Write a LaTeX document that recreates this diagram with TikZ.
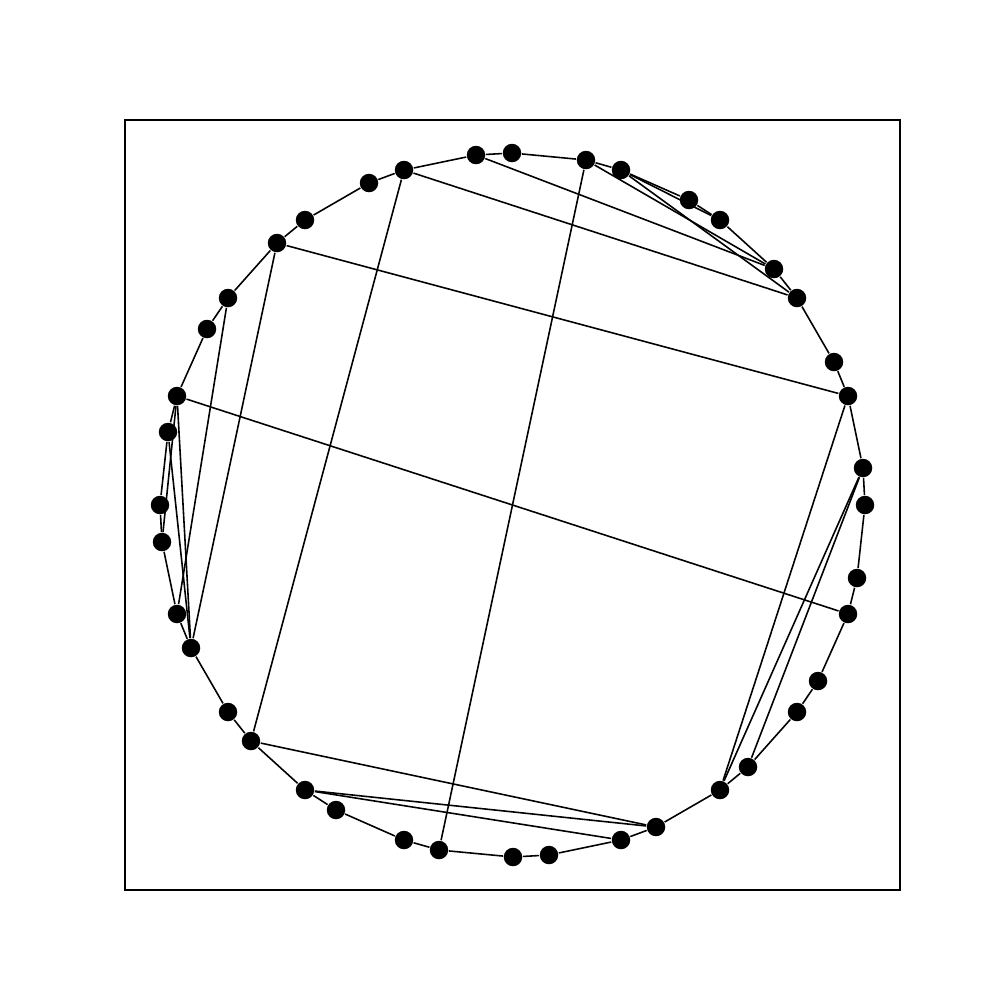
\documentclass[tikz,border=0pt]{standalone}
\usepackage{tikz}
\usetikzlibrary{backgrounds}
\tikzset{
  vertex/.style={circle, fill=black, draw=none, minimum size=1.85mm, inner sep=0pt},
  edge/.style={draw=black, line width=0.45pt},
  framebox/.style={draw=black, line width=0.35pt},
}

\begin{document}
\begin{tikzpicture}[x=0.1mm, y=-0.1mm]
  \useasboundingbox (0,0) rectangle (1000,1000);

  % Frame
  \draw [framebox] (125,120) rectangle (900,890);

  % Nodes
  \node [vertex] (v1) at (476,155) {};
  \node [vertex] (v2) at (512,153) {};
  \node [vertex] (v3) at (586,160) {};
  \node [vertex] (v4) at (621,170) {};
  \node [vertex] (v5) at (689,200) {};
  \node [vertex] (v6) at (720,220) {};
  \node [vertex] (v7) at (774,269) {};
  \node [vertex] (v8) at (797,298) {};
  \node [vertex] (v9) at (834,362) {};
  \node [vertex] (v10) at (848,396) {};
  \node [vertex] (v11) at (863,468) {};
  \node [vertex] (v12) at (865,505) {};
  \node [vertex] (v13) at (857,578) {};
  \node [vertex] (v14) at (848,614) {};
  \node [vertex] (v15) at (818,681) {};
  \node [vertex] (v16) at (797,712) {};
  \node [vertex] (v17) at (748,767) {};
  \node [vertex] (v18) at (720,790) {};
  \node [vertex] (v19) at (656,827) {};
  \node [vertex] (v20) at (621,840) {};
  \node [vertex] (v21) at (549,855) {};
  \node [vertex] (v22) at (513,857) {};
  \node [vertex] (v23) at (439,850) {};
  \node [vertex] (v24) at (404,840) {};
  \node [vertex] (v25) at (336,810) {};
  \node [vertex] (v26) at (305,790) {};
  \node [vertex] (v27) at (251,741) {};
  \node [vertex] (v28) at (228,712) {};
  \node [vertex] (v29) at (191,648) {};
  \node [vertex] (v30) at (177,614) {};
  \node [vertex] (v31) at (162,542) {};
  \node [vertex] (v32) at (160,505) {};
  \node [vertex] (v33) at (168,432) {};
  \node [vertex] (v34) at (177,396) {};
  \node [vertex] (v35) at (207,329) {};
  \node [vertex] (v36) at (228,298) {};
  \node [vertex] (v37) at (277,243) {};
  \node [vertex] (v38) at (305,220) {};
  \node [vertex] (v39) at (369,183) {};
  \node [vertex] (v40) at (404,170) {};

  \begin{scope}[on background layer]
    % Ring edges
    \draw [edge] (v1) -- (v2) -- (v3) -- (v4) -- (v5) -- (v6) -- (v7) -- (v8)
      -- (v9) -- (v10) -- (v11) -- (v12) -- (v13) -- (v14) -- (v15) -- (v16)
      -- (v17) -- (v18) -- (v19) -- (v20) -- (v21) -- (v22) -- (v23) -- (v24)
      -- (v25) -- (v26) -- (v27) -- (v28) -- (v29) -- (v30) -- (v31) -- (v32)
      -- (v33) -- (v34) -- (v35) -- (v36) -- (v37) -- (v38) -- (v39) -- (v40)
      -- (v1);

    % Chords
    \draw [edge] (v1) -- (v7);
    \draw [edge] (v3) -- (v7);
    \draw [edge] (v4) -- (v6);
    \draw [edge] (v4) -- (v8);
    \draw [edge] (v40) -- (v8);
    \draw [edge] (v37) -- (v10);
    \draw [edge] (v34) -- (v14);
    \draw [edge] (v40) -- (v27);
    \draw [edge] (v3) -- (v23);
    \draw [edge] (v37) -- (v29);
    \draw [edge] (v36) -- (v30);
    \draw [edge] (v34) -- (v31);
    \draw [edge] (v34) -- (v29);
    \draw [edge] (v33) -- (v29);
    \draw [edge] (v27) -- (v19);
    \draw [edge] (v26) -- (v19);
    \draw [edge] (v26) -- (v20);
    \draw [edge] (v10) -- (v18);
    \draw [edge] (v11) -- (v17);
    \draw [edge] (v11) -- (v18);
  \end{scope}
\end{tikzpicture}
\end{document}
